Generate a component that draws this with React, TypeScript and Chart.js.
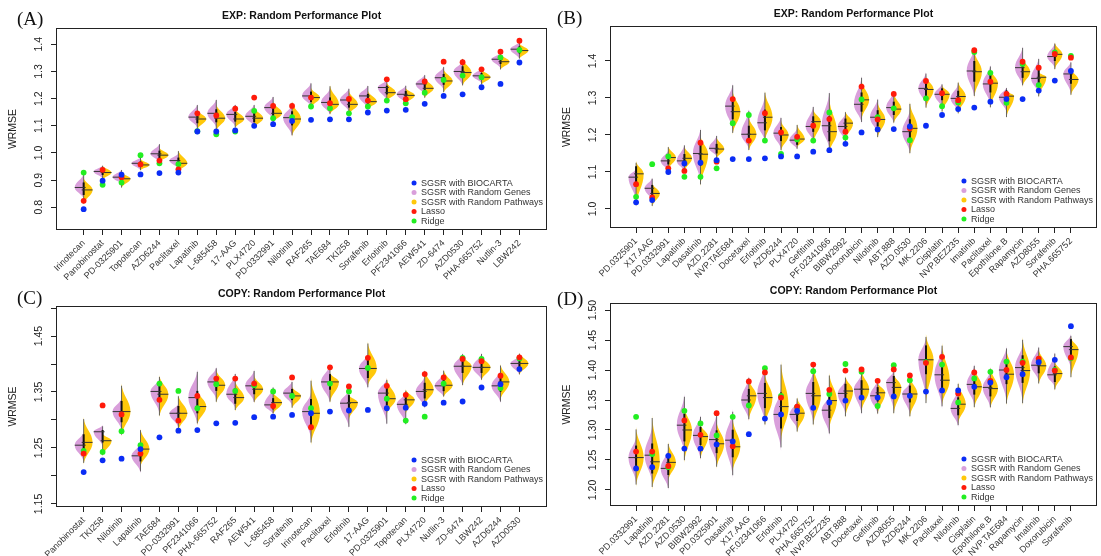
import React, { useEffect, useRef } from "react";
import { Chart, registerables } from "chart.js";
Chart.register(...registerables);

const FONT = "'Liberation Sans', Arial, Helvetica, sans-serif";
const SERIF = "'Liberation Serif', 'Times New Roman', serif";
const BLUE = "#0a2cf5";
const RED = "#ff1a0a";
const GREEN = "#22ee22";
const PINK = "#d99fdb";
const GOLD = "#ffc80a";

// ---------- Panel A : EXP ----------
const aNames = ["Irinotecan","Panobinostat","PD-0325901","Topotecan","AZD6244","Paclitaxel","Lapatinib","L-685458","17-AAG","PLX4720","PD-0332991","Nilotinib","RAF265","TAE684","TKI258","Sorafenib","Erlotinib","PF2341066","AEW541","ZD-6474","AZD0530","PHA-665752","Nutlin-3","LBW242"];
const aBiocarta = [0.793,0.898,0.920,0.921,0.926,0.928,1.079,1.079,1.083,1.100,1.106,1.118,1.122,1.124,1.124,1.149,1.156,1.159,1.181,1.210,1.216,1.242,1.254,1.333];
const aLasso = [0.824,0.938,0.911,0.958,0.972,0.940,1.146,1.138,1.163,1.204,1.173,1.173,1.204,1.183,1.199,1.193,1.271,1.198,1.263,1.336,1.334,1.308,1.373,1.413];
const aRidge = [0.928,0.883,0.891,0.992,0.962,0.959,1.080,1.069,1.079,1.155,1.128,1.132,1.171,1.165,1.146,1.171,1.193,1.183,1.222,1.269,1.285,1.279,1.352,1.379];
const aGeneMed = [0.873,0.932,0.911,0.962,0.997,0.972,1.132,1.146,1.142,1.135,1.167,1.130,1.210,1.186,1.195,1.210,1.241,1.216,1.254,1.277,1.300,1.284,1.345,1.382];
const aGeneLo = [0.83,0.905,0.885,0.935,0.965,0.94,1.09,1.09,1.095,1.095,1.12,1.06,1.17,1.14,1.15,1.16,1.19,1.18,1.21,1.23,1.245,1.255,1.31,1.345];
const aGeneHi = [0.925,0.955,0.94,0.985,1.035,1.0,1.18,1.2,1.18,1.18,1.21,1.18,1.26,1.24,1.24,1.25,1.27,1.25,1.29,1.32,1.34,1.315,1.37,1.41];
const aPathMed = [0.864,0.928,0.905,0.956,0.992,0.962,1.125,1.128,1.125,1.128,1.146,1.125,1.204,1.179,1.179,1.189,1.222,1.212,1.238,1.265,1.296,1.279,1.336,1.377];
const aPathLo = [0.81,0.90,0.87,0.935,0.965,0.93,1.085,1.08,1.09,1.09,1.11,1.06,1.165,1.14,1.14,1.16,1.19,1.18,1.2,1.22,1.245,1.25,1.305,1.345];
const aPathHi = [0.91,0.955,0.93,0.98,1.02,1.01,1.16,1.18,1.165,1.17,1.19,1.19,1.24,1.25,1.23,1.23,1.26,1.24,1.28,1.31,1.35,1.31,1.365,1.405];
const aYTicks = [0.8,0.9,1.0,1.1,1.2,1.3,1.4];
const aYLabels = ["0.8","0.9","1.0","1.1","1.2","1.3","1.4"];

// ---------- Panel B : EXP ----------
const bNames = ["PD.0325901","X17.AAG","PD.0332991","Lapatinib","Dasatinib","AZD.2281","NVP.TAE684","Docetaxel","Erlotinib","AZD6244","PLX4720","Gefitinib","PF.02341066","BIBW2992","Doxorubicin","Nilotinib","ABT.888","AZD.0530","MK.2206","Cisplatin","NVP.BEZ235","Imatinib","Paclitaxel","Epothilone.B","Rapamycin","AZD8055","Sorafenib","PHA.665752"];
const bBiocarta = [1.018,1.024,1.100,1.123,1.125,1.132,1.135,1.135,1.137,1.142,1.142,1.155,1.159,1.176,1.207,1.215,1.216,1.223,1.225,1.254,1.270,1.274,1.290,1.297,1.297,1.320,1.347,1.373];
const bLasso = [1.067,1.031,1.110,1.103,1.179,1.128,1.297,1.185,1.259,1.207,1.195,1.225,1.243,1.209,1.331,1.242,1.311,1.218,1.346,1.313,1.294,1.429,1.344,1.311,1.398,1.382,1.419,1.409];
const bRidge = [1.033,1.121,1.142,1.087,1.087,1.110,1.232,1.254,1.185,1.149,1.188,1.185,1.261,1.193,1.296,1.248,1.272,1.186,1.299,1.278,1.288,1.424,1.368,1.287,1.392,1.335,1.423,1.414];
const bGeneMed = [1.086,1.056,1.130,1.130,1.150,1.164,1.278,1.202,1.233,1.205,1.186,1.223,1.225,1.223,1.283,1.248,1.274,1.209,1.326,1.310,1.299,1.373,1.338,1.302,1.382,1.353,1.412,1.365];
const bGeneLo = [1.02,1.02,1.1,1.1,1.07,1.14,1.21,1.16,1.18,1.16,1.16,1.18,1.16,1.18,1.23,1.2,1.23,1.15,1.28,1.27,1.26,1.3,1.28,1.26,1.33,1.31,1.38,1.31];
const bGeneHi = [1.11,1.085,1.16,1.175,1.22,1.2,1.34,1.27,1.31,1.25,1.22,1.28,1.32,1.26,1.36,1.3,1.32,1.27,1.37,1.34,1.34,1.44,1.39,1.33,1.44,1.41,1.45,1.4];
const bPathMed = [1.095,1.042,1.139,1.137,1.148,1.162,1.263,1.202,1.248,1.200,1.189,1.236,1.209,1.232,1.295,1.242,1.270,1.218,1.323,1.310,1.304,1.371,1.340,1.305,1.371,1.356,1.418,1.350];
const bPathLo = [1.005,1.005,1.105,1.1,1.06,1.135,1.2,1.155,1.18,1.155,1.165,1.175,1.15,1.185,1.24,1.19,1.23,1.145,1.27,1.26,1.255,1.3,1.27,1.245,1.33,1.3,1.375,1.305];
const bPathHi = [1.13,1.07,1.17,1.17,1.2,1.195,1.32,1.25,1.32,1.24,1.23,1.27,1.3,1.265,1.35,1.29,1.315,1.29,1.36,1.335,1.345,1.43,1.38,1.32,1.41,1.37,1.45,1.38];
const bYTicks = [1.0,1.1,1.2,1.3,1.4];
const bYLabels = ["1.0","1.1","1.2","1.3","1.4"];

// ---------- Panel C : COPY ----------
const cNames = ["Panobinostat","TKI258","Nilotinib","Lapatinib","TAE684","PD-0332991","PF2341066","PHA-665752","RAF265","AEW541","L-685458","Sorafenib","Irinotecan","Paclitaxel","Erlotinib","17-AAG","PD-0325901","Topotecan","PLX4720","Nutlin-3","ZD-6474","LBW242","AZD6244","AZD0530"];
const cBiocarta = [1.207,1.228,1.231,1.248,1.269,1.281,1.282,1.294,1.295,1.305,1.306,1.309,1.312,1.315,1.317,1.318,1.321,1.322,1.329,1.331,1.333,1.358,1.364,1.391];
const cLasso = [1.240,1.326,1.310,1.240,1.336,1.299,1.343,1.374,1.374,1.365,1.325,1.376,1.287,1.394,1.360,1.411,1.361,1.345,1.382,1.376,1.409,1.405,1.379,1.412];
const cRidge = [1.245,1.243,1.280,1.255,1.365,1.352,1.321,1.364,1.352,1.362,1.351,1.343,1.321,1.365,1.351,1.393,1.338,1.299,1.306,1.365,1.411,1.409,1.357,1.410];
const cGeneMed = [1.255,1.279,1.315,1.236,1.351,1.312,1.340,1.368,1.346,1.361,1.327,1.348,1.315,1.368,1.330,1.392,1.348,1.328,1.351,1.361,1.396,1.394,1.361,1.401];
const cGeneLo = [1.225,1.252,1.28,1.205,1.31,1.285,1.29,1.335,1.32,1.33,1.31,1.325,1.265,1.33,1.285,1.355,1.29,1.29,1.32,1.34,1.36,1.37,1.33,1.38];
const cGeneHi = [1.28,1.291,1.34,1.26,1.375,1.33,1.39,1.395,1.385,1.39,1.36,1.37,1.35,1.4,1.355,1.42,1.375,1.35,1.38,1.385,1.42,1.42,1.39,1.415];
const cPathMed = [1.260,1.263,1.315,1.248,1.346,1.312,1.324,1.362,1.340,1.355,1.331,1.343,1.312,1.368,1.331,1.392,1.338,1.336,1.354,1.362,1.396,1.394,1.368,1.401];
const cPathLo = [1.22,1.235,1.27,1.215,1.305,1.28,1.29,1.33,1.315,1.33,1.31,1.32,1.255,1.33,1.3,1.36,1.31,1.31,1.325,1.34,1.36,1.37,1.335,1.38];
const cPathHi = [1.305,1.276,1.365,1.285,1.38,1.345,1.355,1.39,1.37,1.38,1.35,1.36,1.375,1.385,1.345,1.44,1.375,1.355,1.39,1.39,1.415,1.415,1.4,1.42];
const cYTicks = [1.15,1.2,1.25,1.3,1.35,1.4,1.45,1.5];
const cYLabels = ["1.15","","1.25","","1.35","","1.45",""];

// ---------- Panel D : COPY ----------
const dNames = ["PD.0332991","Lapatinib","AZD.2281","AZD.0530","BIBW2992","PD.0325901","Dasatinib","X17.AAG","PF.02341066","Erlotinib","PLX4720","PHA.665752","NVP.BEZ235","ABT.888","Docetaxel","Gefitinib","AZD8055","AZD6244","MK.2206","Paclitaxel","Nilotinib","Cisplatin","Epothilone.B","NVP.TAE684","Rapamycin","Imatinib","Doxorubicin","Sorafenib"];
const dBiocarta = [1.236,1.238,1.257,1.269,1.269,1.276,1.281,1.293,1.319,1.326,1.332,1.337,1.346,1.349,1.354,1.354,1.356,1.357,1.364,1.366,1.366,1.372,1.379,1.388,1.393,1.413,1.417,1.473];
const dLasso = [1.264,1.264,1.240,1.316,1.292,1.328,1.273,1.381,1.396,1.354,1.339,1.409,1.367,1.399,1.401,1.382,1.401,1.391,1.412,1.422,1.361,1.396,1.382,1.400,1.412,1.419,1.399,1.421];
const dRidge = [1.322,1.260,1.238,1.332,1.311,1.291,1.322,1.341,1.403,1.357,1.338,1.398,1.360,1.410,1.397,1.340,1.408,1.383,1.413,1.409,1.346,1.386,1.397,1.414,1.414,1.416,1.400,1.420];
const dGeneMed = [1.254,1.258,1.236,1.308,1.291,1.284,1.283,1.350,1.361,1.326,1.326,1.361,1.333,1.361,1.368,1.357,1.379,1.360,1.417,1.392,1.336,1.376,1.371,1.400,1.404,1.408,1.392,1.439];
const dGeneLo = [1.21,1.21,1.2,1.26,1.25,1.24,1.22,1.315,1.31,1.265,1.3,1.31,1.29,1.325,1.325,1.325,1.33,1.325,1.35,1.335,1.305,1.34,1.335,1.345,1.345,1.38,1.37,1.4];
const dGeneHi = [1.29,1.31,1.27,1.36,1.325,1.33,1.335,1.39,1.41,1.37,1.35,1.4,1.36,1.385,1.395,1.385,1.4,1.38,1.455,1.44,1.37,1.41,1.4,1.44,1.445,1.44,1.43,1.46];
const dPathMed = [1.254,1.247,1.246,1.300,1.289,1.277,1.272,1.357,1.354,1.339,1.328,1.357,1.349,1.365,1.368,1.362,1.371,1.360,1.417,1.383,1.343,1.372,1.369,1.393,1.399,1.407,1.394,1.434];
const dPathLo = [1.205,1.2,1.215,1.245,1.25,1.235,1.23,1.315,1.305,1.28,1.295,1.305,1.3,1.32,1.33,1.325,1.325,1.32,1.34,1.34,1.31,1.335,1.335,1.34,1.34,1.375,1.365,1.385];
const dPathHi = [1.305,1.325,1.28,1.34,1.31,1.315,1.32,1.385,1.395,1.415,1.355,1.41,1.395,1.39,1.4,1.38,1.395,1.39,1.46,1.445,1.38,1.405,1.405,1.435,1.455,1.435,1.415,1.455];
const dYTicks = [1.2,1.25,1.3,1.35,1.4,1.45,1.5];
const dYLabels = ["1.20","1.25","1.30","1.35","1.40","1.45","1.50"];

const legendItems: [string, string][] = [
  [BLUE, "SGSR with BIOCARTA"],
  [PINK, "SGSR with Random Genes"],
  [GOLD, "SGSR with Random Pathways"],
  [RED, "Lasso"],
  [GREEN, "Ridge"],
];

type PanelDef = {
  tag: string; title: string;
  left: number; top: number; width: number; height: number;
  area: { l: number; t: number; r: number; b: number };
  tagX: number; tagY: number;
  names: string[]; blue: number[]; red: number[]; green: number[];
  gMed: number[]; gLo: number[]; gHi: number[];
  pMed: number[]; pLo: number[]; pHi: number[];
  yMin: number; yMax: number; yTicks: number[]; yLabels: string[];
};

const panels: PanelDef[] = [
  { tag: "(A)", title: "EXP: Random Performance Plot", left: 0, top: 0, width: 550, height: 280,
    area: { l: 56, t: 28, r: 548, b: 230 }, tagX: 17, tagY: 9,
    names: aNames, blue: aBiocarta, red: aLasso, green: aRidge,
    gMed: aGeneMed, gLo: aGeneLo, gHi: aGeneHi, pMed: aPathMed, pLo: aPathLo, pHi: aPathHi,
    yMin: 0.7165, yMax: 1.46, yTicks: aYTicks, yLabels: aYLabels },
  { tag: "(B)", title: "EXP: Random Performance Plot", left: 550, top: 0, width: 551, height: 280,
    area: { l: 60, t: 26, r: 547, b: 228 }, tagX: 7, tagY: 8,
    names: bNames, blue: bBiocarta, red: bLasso, green: bRidge,
    gMed: bGeneMed, gLo: bGeneLo, gHi: bGeneHi, pMed: bPathMed, pLo: bPathLo, pHi: bPathHi,
    yMin: 0.9486, yMax: 1.4946, yTicks: bYTicks, yLabels: bYLabels },
  { tag: "(C)", title: "COPY: Random Performance Plot", left: 0, top: 278, width: 550, height: 278,
    area: { l: 56, t: 28, r: 548, b: 229 }, tagX: 17, tagY: 10,
    names: cNames, blue: cBiocarta, red: cLasso, green: cRidge,
    gMed: cGeneMed, gLo: cGeneLo, gHi: cGeneHi, pMed: cPathMed, pLo: cPathLo, pHi: cPathHi,
    yMin: 1.1446, yMax: 1.5036, yTicks: cYTicks, yLabels: cYLabels },
  { tag: "(D)", title: "COPY: Random Performance Plot", left: 550, top: 278, width: 551, height: 278,
    area: { l: 60, t: 25, r: 547, b: 228 }, tagX: 7, tagY: 11,
    names: dNames, blue: dBiocarta, red: dLasso, green: dRidge,
    gMed: dGeneMed, gLo: dGeneLo, gHi: dGeneHi, pMed: dPathMed, pLo: dPathLo, pHi: dPathHi,
    yMin: 1.1733, yMax: 1.5117, yTicks: dYTicks, yLabels: dYLabels },
];

function halfViolin(ctx: CanvasRenderingContext2D, x: number, yHi: number, yMed: number, yLo: number, w: number, color: string) {
  const a = yMed - yHi;
  const b = yLo - yMed;
  ctx.beginPath();
  ctx.moveTo(x, yHi);
  ctx.bezierCurveTo(x + w * 0.08, yHi + a * 0.45, x + w, yMed - a * 0.4, x + w, yMed);
  ctx.bezierCurveTo(x + w, yMed + b * 0.4, x + w * 0.08, yLo - b * 0.45, x, yLo);
  ctx.closePath();
  ctx.fillStyle = color;
  ctx.fill();
}

function Panel({ p }: { p: PanelDef }) {
  const ref = useRef<HTMLCanvasElement | null>(null);
  useEffect(() => {
    const canvas = ref.current;
    if (!canvas) return;
    const n = p.names.length;
    const pad = 0.5 + 0.04 * n;
    const plugin = {
      id: "violinPanel",
      beforeDatasetsDraw(chart: any) {
        const ctx: CanvasRenderingContext2D = chart.ctx;
        const xs = chart.scales.x;
        const ys = chart.scales.y;
        const a = chart.chartArea;
        const unit = xs.getPixelForValue(1) - xs.getPixelForValue(0);
        const W = unit * 0.47;
        ctx.save();
        ctx.beginPath();
        ctx.rect(a.left, a.top, a.right - a.left, a.bottom - a.top);
        ctx.clip();
        for (let i = 0; i < n; i++) {
          const x = xs.getPixelForValue(i);
          halfViolin(ctx, x, ys.getPixelForValue(p.gHi[i]), ys.getPixelForValue(p.gMed[i]), ys.getPixelForValue(p.gLo[i]), -W, PINK);
          halfViolin(ctx, x, ys.getPixelForValue(p.pHi[i]), ys.getPixelForValue(p.pMed[i]), ys.getPixelForValue(p.pLo[i]), W, GOLD);
          const hi = Math.max(p.gHi[i], p.pHi[i]);
          const lo = Math.min(p.gLo[i], p.pLo[i]);
          const yTop = ys.getPixelForValue(hi);
          const yBot = ys.getPixelForValue(lo);
          const span = yBot - yTop;
          ctx.strokeStyle = "#555";
          ctx.lineWidth = 0.9;
          ctx.beginPath();
          ctx.moveTo(x, yTop + span * 0.04);
          ctx.lineTo(x, yBot - span * 0.04);
          ctx.stroke();
          const mid = (ys.getPixelForValue(p.gMed[i]) + ys.getPixelForValue(p.pMed[i])) / 2;
          ctx.strokeStyle = "#111";
          ctx.lineWidth = 2;
          ctx.beginPath();
          ctx.moveTo(x, mid - span * 0.2);
          ctx.lineTo(x, mid + span * 0.2);
          ctx.stroke();
          ctx.strokeStyle = "#333";
          ctx.lineWidth = 1;
          const yg = ys.getPixelForValue(p.gMed[i]);
          const yp = ys.getPixelForValue(p.pMed[i]);
          ctx.beginPath();
          ctx.moveTo(x - W, yg);
          ctx.lineTo(x + 2, yg);
          ctx.moveTo(x - 2, yp);
          ctx.lineTo(x + W, yp);
          ctx.stroke();
        }
        ctx.restore();
      },
      afterDraw(chart: any) {
        const ctx: CanvasRenderingContext2D = chart.ctx;
        const a = chart.chartArea;
        const ys = chart.scales.y;
        ctx.save();
        ctx.strokeStyle = "#222";
        ctx.lineWidth = 1;
        ctx.strokeRect(Math.round(a.left) + 0.5, Math.round(a.top) + 0.5, Math.round(a.right - a.left) - 1, Math.round(a.bottom - a.top) - 1);
        ctx.fillStyle = "#111";
        ctx.font = `bold 10.5px ${FONT}`;
        ctx.textAlign = "center";
        ctx.textBaseline = "middle";
        ctx.fillText(p.title, (a.left + a.right) / 2, a.top - 12);
        ctx.font = `10.5px ${FONT}`;
        ctx.fillStyle = "#222";
        ys.ticks.forEach((t: any) => {
          const idx = p.yTicks.findIndex((v) => Math.abs(v - t.value) < 1e-9);
          const label = idx >= 0 ? p.yLabels[idx] : "";
          if (!label) return;
          const py = ys.getPixelForValue(t.value);
          ctx.save();
          ctx.translate(a.left - 17, py);
          ctx.rotate(-Math.PI / 2);
          ctx.fillText(label, 0, 0);
          ctx.restore();
        });
        ctx.save();
        ctx.translate(a.left - 43, (a.top + a.bottom) / 2);
        ctx.rotate(-Math.PI / 2);
        ctx.fillText("WRMSE", 0, 0);
        ctx.restore();
        ctx.font = `9px ${FONT}`;
        const maxW = Math.max(...legendItems.map((it) => ctx.measureText(it[1]).width));
        const textX = a.right - 4 - maxW;
        const dotX = textX - 7;
        const rowH = 9.5;
        const y0 = a.bottom - 9 - 4 * rowH;
        ctx.textAlign = "left";
        legendItems.forEach((it, k) => {
          const yy = y0 + k * rowH;
          ctx.fillStyle = it[0];
          ctx.beginPath();
          ctx.arc(dotX, yy, 2.5, 0, Math.PI * 2);
          ctx.fill();
          ctx.fillStyle = "#333";
          ctx.fillText(it[1], textX, yy + 0.5);
        });
        ctx.restore();
      },
    };
    const pts = (arr: number[]) => arr.map((v, i) => ({ x: i, y: v }));
    const gridOpts = { display: true, drawOnChartArea: false, drawTicks: true, tickLength: 5, color: "#222", lineWidth: 1 };
    const R = 2.9;
    const chart = new Chart(canvas, {
      type: "scatter",
      data: {
        datasets: [
          { label: "SGSR with BIOCARTA", data: pts(p.blue), backgroundColor: BLUE, pointRadius: R, pointBorderWidth: 0, pointHoverRadius: R },
          { label: "Lasso", data: pts(p.red), backgroundColor: RED, pointRadius: R, pointBorderWidth: 0, pointHoverRadius: R },
          { label: "Ridge", data: pts(p.green), backgroundColor: GREEN, pointRadius: R, pointBorderWidth: 0, pointHoverRadius: R },
        ],
      },
      options: {
        responsive: false,
        animation: false,
        events: [],
        layout: { padding: { top: p.area.t, right: p.width - p.area.r, left: 0, bottom: 0 } },
        plugins: { legend: { display: false }, tooltip: { enabled: false }, title: { display: false } },
        scales: {
          x: {
            type: "linear",
            min: -pad,
            max: n - 1 + pad,
            bounds: "data",
            afterBuildTicks: (s: any) => { s.ticks = p.names.map((_, i) => ({ value: i })); },
            afterFit: (s: any) => { s.height = p.height - p.area.b; },
            grid: gridOpts,
            border: { display: false },
            ticks: {
              autoSkip: false,
              minRotation: 45,
              maxRotation: 45,
              padding: 3,
              color: "#333",
              font: { family: FONT, size: 9 },
              callback: (v: any) => p.names[Math.round(Number(v))] ?? "",
            },
          },
          y: {
            type: "linear",
            min: p.yMin,
            max: p.yMax,
            bounds: "data",
            afterBuildTicks: (s: any) => { s.ticks = p.yTicks.map((v) => ({ value: v })); },
            afterFit: (s: any) => { s.width = p.area.l; },
            grid: gridOpts,
            border: { display: false },
            ticks: { display: false },
          },
        },
      } as any,
      plugins: [plugin],
    });
    return () => chart.destroy();
  }, [p]);
  return (
    <div style={{ position: "absolute", left: p.left, top: p.top, width: p.width, height: p.height }}>
      <canvas ref={ref} width={p.width} height={p.height} style={{ position: "absolute", left: 0, top: 0, width: p.width, height: p.height }} />
      <div style={{ position: "absolute", left: p.tagX, top: p.tagY, fontFamily: SERIF, fontSize: 19, lineHeight: "19px", color: "#111", whiteSpace: "nowrap" }}>{p.tag}</div>
    </div>
  );
}

export default function App() {
  return (
    <div style={{ position: "absolute", left: 0, top: 0, width: 1101, height: 556, background: "#fff", overflow: "hidden" }}>
      {panels.map((p) => <Panel key={p.tag} p={p} />)}
    </div>
  );
}
